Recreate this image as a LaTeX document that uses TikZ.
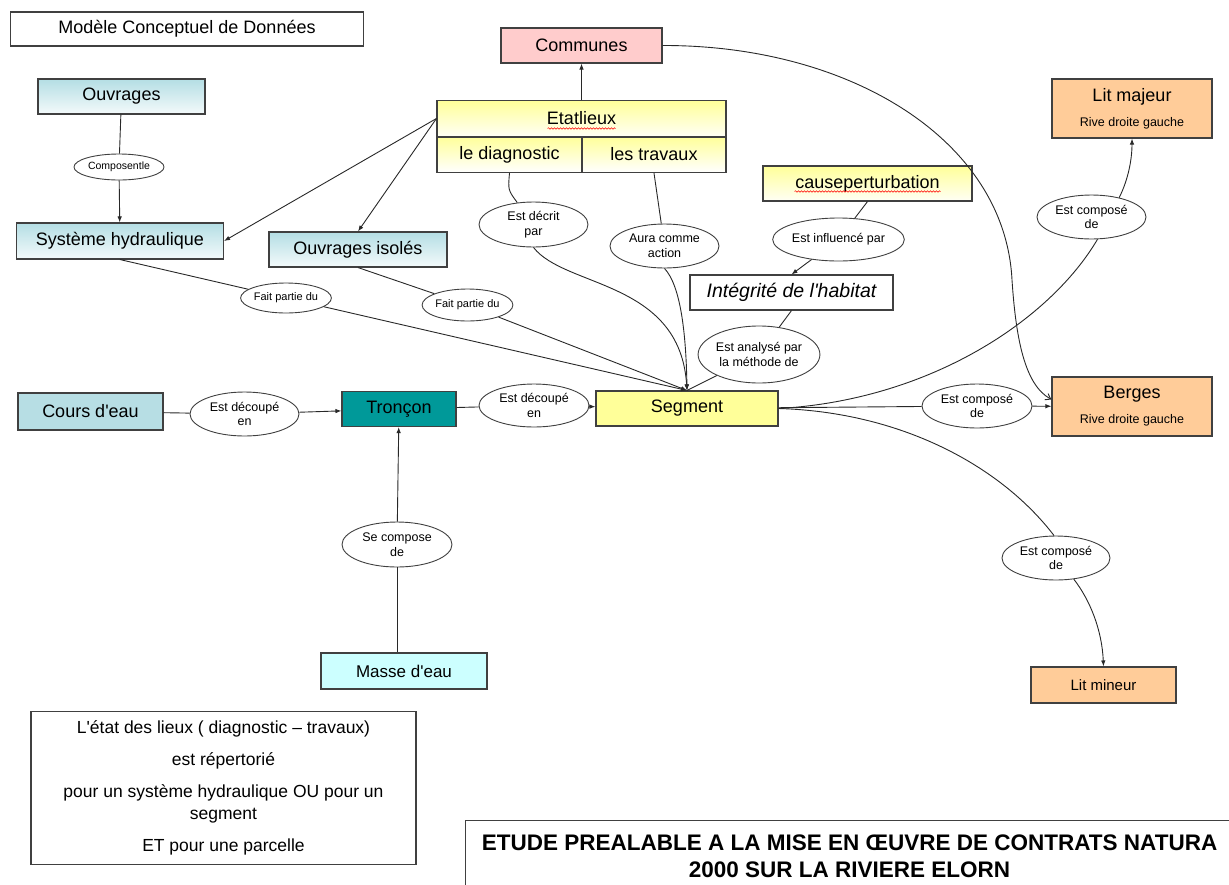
\documentclass[tikz,border=0pt]{standalone}
\usepackage{fontspec}
\setmainfont{Liberation Sans}
\usetikzlibrary{shapes.geometric,arrows.meta,decorations.pathmorphing}

\definecolor{boxline}{RGB}{64,64,64}
\definecolor{linkcol}{RGB}{40,40,40}
\definecolor{ouvblue}{RGB}{180,222,228}
\definecolor{coursblue}{RGB}{183,222,228}
\definecolor{masseblue}{RGB}{204,255,255}
\definecolor{tronteal}{RGB}{0,153,153}
\definecolor{segyellow}{RGB}{255,255,153}
\definecolor{compink}{RGB}{255,204,204}
\definecolor{litorange}{RGB}{255,204,153}

% straight apostrophe
\newcommand{\apos}{\textquotesingle}

\begin{document}
\begin{tikzpicture}[x=1pt, y=-1pt,
    box/.style={draw=boxline, line width=1.1pt, inner sep=0pt, align=center,
      font=\fontsize{18}{21}\selectfont},
    rel/.style={ellipse, draw=boxline, line width=0.9pt, fill=white, inner sep=0pt,
      align=center, minimum width=\relw, minimum height=\relh,
      font=\fontsize{12.5}{14.5}\selectfont},
    link/.style={draw=linkcol, line width=0.9pt},
    arr/.style={link, -{Latex[length=6pt,width=4.5pt]}},
    wavy/.style={draw=red, line width=0.5pt, decorate,
      decoration={snake, amplitude=0.8pt, segment length=3pt}}
  ]

  \useasboundingbox (0,0) rectangle (1229,884);

  % Size of the relation ellipses
  \pgfmathsetlengthmacro{\relw}{109pt}
  \pgfmathsetlengthmacro{\relh}{44pt}

  % Title
  \node[box, fill=white, minimum width=353pt, minimum height=34pt] (titre) at (187,29) {Modèle Conceptuel de Données};

  % Communes and the etat des lieux
  \node[box, fill=compink, minimum width=161pt, minimum height=35pt] (communes) at (581.5,45.5) {Communes};
  \node[box, top color=segyellow, bottom color=segyellow!10, minimum width=289pt,
    minimum height=36pt] (etatlieux) at (581.5,118.5) {Etatlieux};
  \node[box, top color=segyellow, bottom color=white, minimum width=145pt,
    minimum height=36pt] (diagnostic) at (509.5,154.5) {le diagnostic};
  \node[box, top color=segyellow, bottom color=white, minimum width=144pt,
    minimum height=36pt] (travaux) at (654,154.5) {les travaux};
  \draw[boxline, line width=2.2pt] (etatlieux.south west) -- (etatlieux.south east);
  \draw[wavy] (etatlieux.center) ++(-34,10) -- ++(68,0);

  % Ouvrages
  \node[box, top color=ouvblue, bottom color=ouvblue!15, minimum width=167pt,
    minimum height=35pt] (ouvrages) at (121.5,96.5) {Ouvrages};
  \node[box, top color=ouvblue, bottom color=ouvblue!15, minimum width=207pt,
    minimum height=36pt] (syshydrau) at (120,241) {Système hydraulique};
  \node[box, top color=ouvblue, bottom color=ouvblue!15, minimum width=178pt,
    minimum height=35pt] (ouvisoles) at (358,249.5) {Ouvrages isolés};
  \node[rel, minimum width=90pt, minimum height=26pt,
    font=\fontsize{10.5}{12}\selectfont] (composentle) at (119,167) {Composentle};
  \node[rel, minimum width=90pt, minimum height=30pt,
    font=\fontsize{11}{13}\selectfont] (fp1) at (286,298) {Fait partie du};
  \node[rel, minimum width=89pt, minimum height=32pt,
    font=\fontsize{11}{13}\selectfont] (fp2) at (467.5,305) {Fait partie du};

  % Relations of the etat des lieux
  \node[rel, minimum height=45pt] (decrit) at (533.5,224.5) {Est décrit\\par};
  \node[rel] (aura) at (664.5,246) {Aura comme\\action};

  % Perturbations and habitat
  \node[box, top color=segyellow, bottom color=segyellow!10, minimum width=209pt,
    minimum height=35pt] (causeperturbation) at (867.5,183.5) {causeperturbation};
  \draw[wavy] (causeperturbation.center) ++(-73,8) -- ++(146,0);
  \node[rel, minimum height=43pt] (influence) at (838.5,239.5) {Est influencé par};
  \node[box, fill=white, minimum width=203pt, minimum height=35pt,
    font=\itshape\fontsize{19.5}{22}\selectfont] (integrite) at (791.5,292.5) {Intégrité de l\apos habitat};
  \node[rel, minimum width=108pt, minimum height=57pt] (analyse) at (759,354.5) {Est analysé par\\la méthode de};

  % River chain
  \node[box, fill=coursblue, minimum width=145pt, minimum height=37pt] (coursdeau) at (90.5,411.5) {Cours d\apos eau};
  \node[rel] (decoupe1) at (244.5,414) {Est découpé\\en};
  \node[box, fill=tronteal, minimum width=114pt, minimum height=35pt] (troncon) at (399,409) {Tronçon};
  \node[rel, minimum width=110pt, minimum height=43pt] (decoupe2) at (534,405.5) {Est découpé\\en};
  \node[box, fill=segyellow, minimum width=182pt, minimum height=35pt] (segment) at (687,408.5) {Segment};
  \node[rel, minimum width=110pt, minimum height=45pt] (compose) at (397,544.5) {Se compose\\de};
  \node[box, fill=masseblue, minimum width=166pt, minimum height=36pt,
    font=\fontsize{17}{20}\selectfont] (massedeau) at (404,671) {Masse d\apos eau};

  % Lits and berges
  \node[box, fill=litorange, minimum width=160pt, minimum height=59pt] (litmajeur) at (1132,108.5)
    {Lit majeur\\[4pt]\fontsize{12.5}{15}\selectfont Rive droite gauche};
  \node[rel] (majcomp) at (1091.5,217) {Est composé\\de};
  \node[box, fill=litorange, minimum width=160pt, minimum height=59pt] (berges) at (1132,406.5)
    {Berges\\[4pt]\fontsize{12.5}{15}\selectfont Rive droite gauche};
  \node[rel, minimum width=110pt] (bergescomp) at (977,406) {Est composé\\de};
  \node[rel, minimum width=108pt] (mineurcomp) at (1056,558) {Est composé\\de};
  \node[box, fill=litorange, minimum width=145pt, minimum height=36pt,
    font=\fontsize{15}{18}\selectfont] (litmineur) at (1103.5,685) {Lit mineur};

  % Notes
  \node[box, fill=white, minimum width=385pt, minimum height=153pt,
    font=\fontsize{17.5}{22}\selectfont] (notes) at (223.5,788)
    {L\apos état des lieux ( diagnostic – travaux)\\[10pt] est répertorié\\[10pt]
     pour un système hydraulique OU pour un\\segment\\[10pt] ET pour une parcelle};
  \node[box, fill=white, anchor=north west, minimum width=768pt, minimum height=72pt,
    font=\bfseries\fontsize{22.5}{27}\selectfont] (etude) at (465,820)
    {ETUDE PREALABLE A LA MISE EN ŒUVRE DE CONTRATS NATURA\\2000 SUR LA RIVIERE ELORN};

  % Links of the etat des lieux
  \draw[arr] (etatlieux.north) -- (communes.south);
  \draw[arr] (etatlieux.west) -- (syshydrau.east);
  \draw[arr] (etatlieux.west) -- (ouvisoles.north);
  \draw[link] (diagnostic.south) .. controls (508,190) .. (decrit);
  \draw[arr] (decrit.south) .. controls (565,288) and (680,280) .. (segment.north);
  \draw[link] (travaux.south) -- (aura);
  \draw[arr] (aura.south) .. controls (680,285) and (686,330) .. (segment.north);

  % Links of the ouvrages
  \draw[link] (ouvrages) -- (composentle);
  \draw[arr] (composentle) -- (syshydrau);
  \draw[link] (syshydrau.south) -- (fp1);
  \draw[arr] (fp1) -- (segment.north);
  \draw[link] (ouvisoles.south) -- (fp2);
  \draw[arr] (fp2) -- (segment.north);

  % Habitat links
  \draw[link] (causeperturbation.south) -- (influence);
  \draw[arr] (influence) -- (integrite.north);
  \draw[link] (integrite.south) -- (analyse);
  \draw[link] (analyse) -- (segment.north);

  % River chain links
  \draw[link] (coursdeau) -- (decoupe1);
  \draw[arr] (decoupe1) -- (troncon);
  \draw[link] (troncon) -- (decoupe2);
  \draw[arr] (decoupe2) -- (segment);
  \draw[link] (compose) -- (compose |- massedeau.north);
  \draw[arr] (compose) -- (troncon);

  % Segment to the lits and berges
  \draw[link] (segment) -- (bergescomp);
  \draw[arr] (bergescomp) -- (berges);
  \draw[link] (segment.east) .. controls (930,400) and (1050,320) .. (majcomp.-75);
  \draw[arr] (majcomp.35) .. controls (1128,180) and (1132,160) .. (litmajeur.south);
  \draw[link] (segment.east) .. controls (900,412) and (1000,465) .. (mineurcomp.95);
  \draw[arr] (mineurcomp.-50) .. controls (1090,600) and (1102,630) .. (litmineur.north);

  % Communes to berges
  \draw[link, -{Straight Barb[length=5pt,width=7pt]}] (communes.east)
    .. controls (850,45) and (1005,140) .. (1012,280)
    .. controls (1016,340) and (1025,385) .. (berges.175);

\end{tikzpicture}
\end{document}
